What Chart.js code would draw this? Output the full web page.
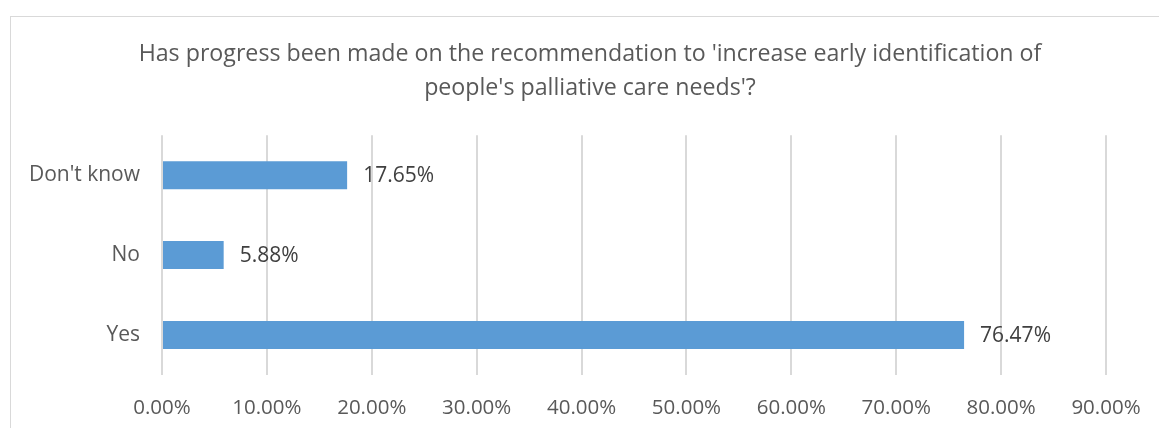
<!DOCTYPE html>
<html lang="en">
<head>
<meta charset="UTF-8">
<title>Palliative care survey</title>
<style>
  html, body { margin: 0; padding: 0; background: #fff; overflow: hidden; }
  .frame { position: absolute; left: 10px; top: 16px; width: 1200px; height: 500px;
           border-left: 1px solid #d9d9d9; border-top: 1px solid #d9d9d9; }
  .wrap { position: absolute; left: 0; top: 0; width: 1159px; height: 428px; }
</style>
</head>
<body>
<div class="frame"></div>
<div class="wrap"><canvas id="grafico" width="1159" height="428"></canvas></div>

<script src="https://cdn.jsdelivr.net/npm/chart.js"></script>
<script>
const titulo = ["Has progress been made on the recommendation to 'increase early identification of",
                "people's palliative care needs'?"];
const categorias = ["Don't know", "No", "Yes"];
const valores = [17.65, 5.88, 76.47];
const eixoMax = 90;
const eixoPasso = 10;

const fonte = "'Open Sans', 'DejaVu Sans', sans-serif";

// rótulos de valor ao lado de cada barra
const rotulosBarras = {
  id: 'rotulosBarras',
  afterDatasetsDraw(chart) {
    const ctx = chart.ctx;
    const meta = chart.getDatasetMeta(0);
    ctx.save();
    ctx.font = '21px ' + fonte;
    ctx.fillStyle = '#404040';
    ctx.textAlign = 'left';
    ctx.textBaseline = 'middle';
    meta.data.forEach((bar, i) => {
      ctx.fillText(valores[i].toFixed(2) + '%', bar.x + 16, bar.y + 1);
    });
    ctx.restore();
  }
};

new Chart(document.getElementById('grafico').getContext('2d'), {
  type: 'bar',
  data: {
    labels: categorias,
    datasets: [{
      data: valores,
      backgroundColor: '#5b9bd5',
      borderWidth: 0,
      categoryPercentage: 0.7,
      barPercentage: 0.5
    }]
  },
  options: {
    indexAxis: 'y',
    responsive: false,
    animation: false,
    layout: { padding: { left: 21, right: 0, top: 0, bottom: 0 } },
    scales: {
      x: {
        min: 0,
        max: eixoMax,
        ticks: {
          stepSize: eixoPasso,
          color: '#595959',
          font: { size: 20.5, family: fonte },
          padding: 21,
          callback: v => v.toFixed(2) + '%'
        },
        grid: { color: '#d9d9d9', lineWidth: 2, drawTicks: false },
        border: { display: false },
        afterFit: s => { s.paddingLeft = 0; s.paddingRight = 53; s.height = 53; }
      },
      y: {
        ticks: {
          color: '#595959',
          font: { size: 21, family: fonte },
          padding: 22
        },
        grid: { display: false, drawTicks: false },
        border: { display: false },
        afterFit: s => { s.width = 141; s.paddingTop = 0; s.paddingBottom = 0; }
      }
    },
    plugins: {
      legend: { display: false },
      tooltip: { enabled: false },
      title: {
        display: true,
        text: titulo,
        color: '#595959',
        font: { size: 23.2, family: fonte, weight: 'normal', lineHeight: 1.47 },
        padding: { top: 37, bottom: 30 }
      }
    }
  },
  plugins: [rotulosBarras]
});
</script>
</body>
</html>
